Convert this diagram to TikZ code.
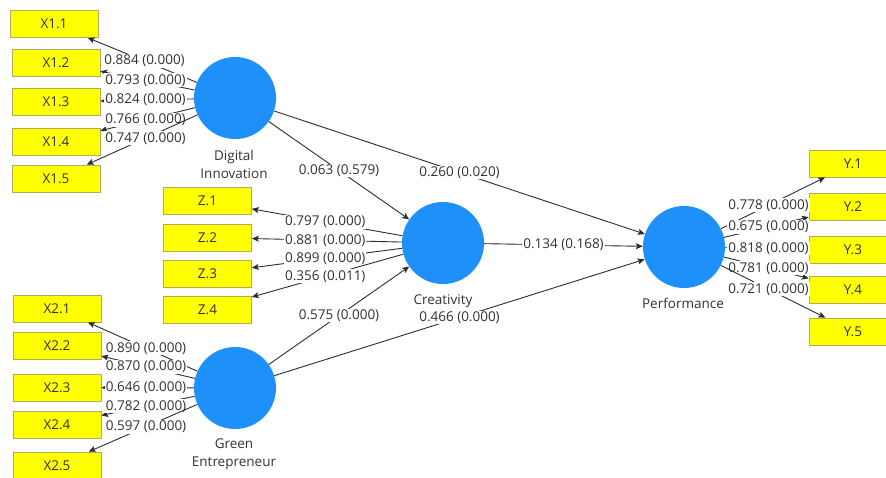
\documentclass[tikz,border=0pt]{standalone}
\usepackage{fontspec}
\setmainfont{Open Sans}
\usetikzlibrary{arrows.meta}
\definecolor{lvblue}{RGB}{30,144,250}
\definecolor{mvyellow}{RGB}{255,255,0}
\definecolor{mvborder}{RGB}{175,175,90}
\definecolor{edgegray}{RGB}{45,45,45}
\definecolor{txtgray}{RGB}{50,50,50}
\begin{document}
\begin{tikzpicture}[x=1pt,y=-1pt,
  font=\fontsize{13.5}{18}\selectfont,
  lv/.style={circle,fill=lvblue,minimum size=82pt,inner sep=0pt},
  mv/.style={rectangle,fill=mvyellow,draw=mvborder,line width=0.6pt,minimum width=88pt,minimum height=27pt,inner sep=0pt,text=txtgray},
  conn/.style={draw=edgegray,line width=0.9pt,-{Stealth[length=7pt,width=6pt,inset=1.5pt]}},
  wt/.style={fill=white,inner sep=0.8pt,text=txtgray},
  lvlab/.style={align=center,text=txtgray}
]
\useasboundingbox (0,0) rectangle (886,478);
\clip (0,0) rectangle (886,478);

% latent variables
\node[lv] (DI) at (235,98) {};
\node[lv] (GE) at (235,388) {};
\node[lv] (CR) at (443,243) {};
\node[lv] (PF) at (684,247) {};
\node[lvlab] (DIlab) at (234,164) {Digital\\Innovation};
\node[lvlab] (GElab) at (234,454) {Green\\Entrepreneur};
\node[lvlab] (CRlab) at (443,301) {Creativity};
\node[lvlab] (PFlab) at (683,303) {Performance};

% indicators
\node[mv] (x11) at (54,24) {X1.1};
\node[mv] (x12) at (56,62.5) {X1.2};
\node[mv] (x13) at (56,102) {X1.3};
\node[mv] (x14) at (56,141.5) {X1.4};
\node[mv] (x15) at (56,178.5) {X1.5};
\node[mv] (x21) at (57,308.5) {X2.1};
\node[mv] (x22) at (57,345.5) {X2.2};
\node[mv] (x23) at (57,387.5) {X2.3};
\node[mv] (x24) at (57,424.5) {X2.4};
\node[mv] (x25) at (57,465.5) {X2.5};
\node[mv] (z1) at (207.5,201) {Z.1};
\node[mv] (z2) at (207.5,237.5) {Z.2};
\node[mv] (z3) at (207.5,273.5) {Z.3};
\node[mv] (z4) at (207.5,309.5) {Z.4};
\node[mv] (y1) at (853,163.5) {Y.1};
\node[mv] (y2) at (853,206.5) {Y.2};
\node[mv] (y3) at (853,250) {Y.3};
\node[mv] (y4) at (853,289.5) {Y.4};
\node[mv] (y5) at (853,331.5) {Y.5};

% structural paths
\foreach \a/\b/\t in {DI/CR/0.063 (0.579), DI/PF/0.260 (0.020), GE/CR/0.575 (0.000), GE/PF/0.466 (0.000), CR/PF/0.134 (0.168)}{
  \draw[conn] (\a) -- (\b);
  \path (\a.center) -- (\b.center) node[midway,wt] {\t};
}

% loadings
\foreach \a/\b/\t in {DI/x11/0.884 (0.000), DI/x12/0.793 (0.000), DI/x13/0.824 (0.000), DI/x14/0.766 (0.000), DI/x15/0.747 (0.000),
  GE/x21/0.890 (0.000), GE/x22/0.870 (0.000), GE/x23/0.646 (0.000), GE/x24/0.782 (0.000), GE/x25/0.597 (0.000),
  CR/z1/0.797 (0.000), CR/z2/0.881 (0.000), CR/z3/0.899 (0.000), CR/z4/0.356 (0.011),
  PF/y1/0.778 (0.000), PF/y2/0.675 (0.000), PF/y3/0.818 (0.000), PF/y4/0.781 (0.000), PF/y5/0.721 (0.000)}{
  \draw[conn] (\a) -- (\b);
  \path (\a.center) -- (\b.center) node[midway,wt] {\t};
}
\end{tikzpicture}
\end{document}
